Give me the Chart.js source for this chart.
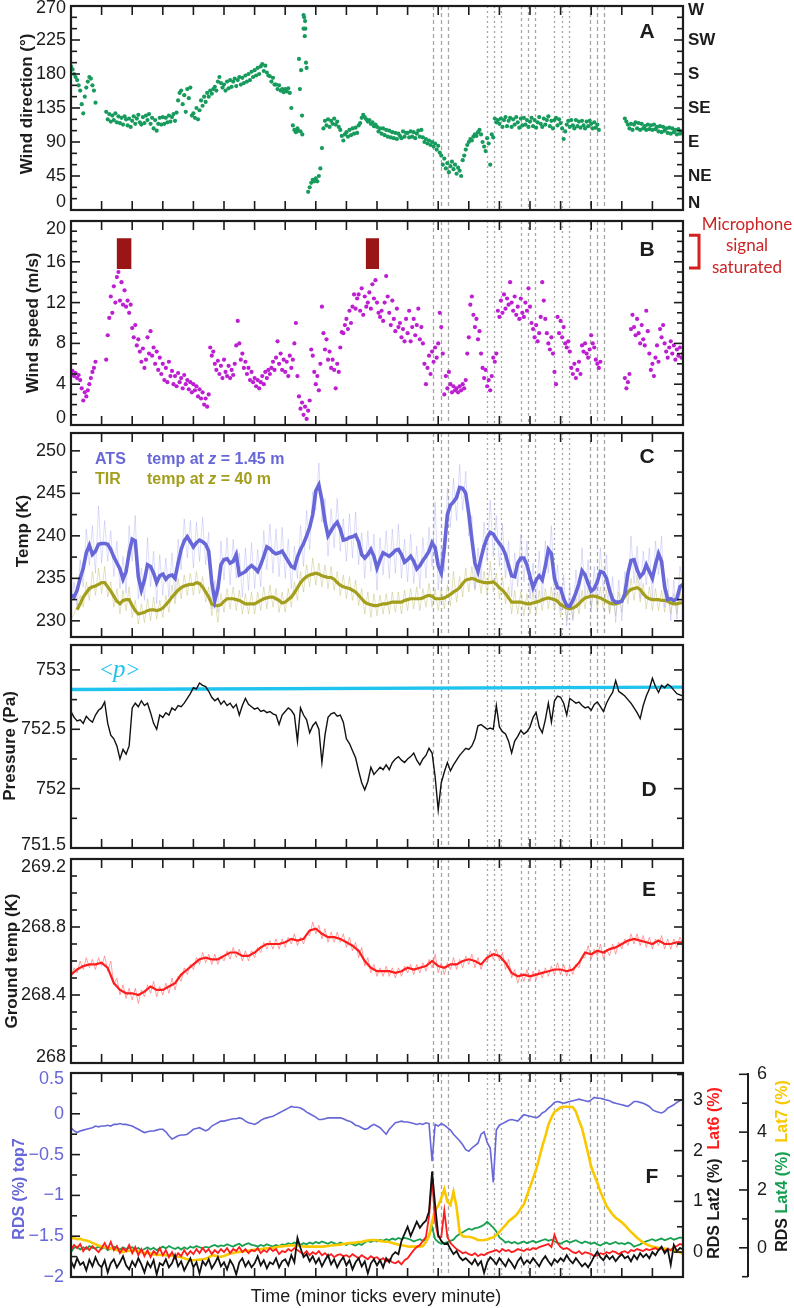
<!DOCTYPE html>
<html>
<head>
<meta charset="utf-8">
<title>Wind, temperature, pressure and RDS records</title>
<script src="https://cdn.jsdelivr.net/npm/chart.js@4.4.1/dist/chart.umd.min.js"></script>
<style>
  html, body { margin: 0; padding: 0; background: #fff; }
  body { position: relative; width: 794px; height: 1308px; overflow: hidden; }
</style>
</head>
<body>
<script>
// time axis is in minutes, 0..20
const STEP_FINE = 0.05;   // wind direction / speed samples
const STEP = 0.1;         // temperature, pressure, RDS samples
const STEP_SMOOTH = 0.2;  // smoothed ground temperature

// A - wind direction (deg)
const windDir = [
  190, 186, 180, 176, 172, 165, 158, 140, 128, 150, 162, 170, 176, 174, 165, 158, 142, null, null, null,
  null, null, null, 130, 120, 127, 117, 125, 119, 128, 116, 124, 115, 122, 113, 124, 120, 112, 121, 110,
  118, 124, 114, 121, 126, 116, 113, 123, 115, 125, 119, 127, 114, 122, 108, 119, 105, 114, 122, 113,
  123, 114, 122, 116, 125, 117, 123, 127, 118, 129, 145, 155, 158, 140, 152, 130, 160, 148, 162, 125,
  128, 122, 135, 120, 132, 145, 138, 150, 143, 155, 150, 158, 154, 160, 163, 158, 170, 176, 168, 162,
  166, 158, 170, 161, 172, 163, 170, 174, 164, 172, 176, 166, 175, 168, 178, 170, 180, 172, 183, 176,
  185, 178, 188, 180, 190, 193, 184, 191, 182, 178, 177, 170, 175, 166, 166, 160, 165, 158, 160, 156,
  160, 157, 161, 155, 135, 112, 106, 103, 108, 200, 104, 125, 240, 250, 188, 24, 30, 36, 40, 38,
  42, 38, 45, 55, 82, 108, 118, 112, 120, 110, 118, 114, 121, 113, 117, 110, 106, 98, 92, 100,
  103, 97, 106, 99, 108, 101, 109, 102, 112, 115, 122, 126, 123, 120, 117, 119, 114, 116, 111, 113,
  110, 104, 108, 101, 108, 99, 106, 97, 105, 96, 103, 95, 102, 94, 101, 98, 95, 104, 97, 102,
  102, 96, 104, 97, 103, 95, 101, 105, 97, 106, 96, 90, 94, 88, 92, 86, 90, 84, 88, 80,
  85, 76, 72, 60, 68, 55, 62, 50, 58, 64, 54, 60, 48, 56, 52, 45, 66, 72, 80, 86,
  90, 94, 92, 97, 100, 98, 103, 106, 100, 90, 84, 78, 95, 88, 60, 100, 96, 121, 116, 119,
  114, 121, 110, 119, 123, 111, 118, 122, 110, 120, 113, 123, 116, 109, 121, 112, 122, 113, 119, 110,
  117, 122, 111, 119, 109, 116, 123, 114, 110, 121, 113, 119, 124, 111, 118, 108, 119, 122, 112, 120,
  115, 108, 94, 104, 113, 118, 110, 119, 112, 108, 119, 111, 117, 109, 118, 112, 108, 117, 111, 118,
  114, 108, 116, 109, 113, 106, null, null, null, null, null, null, null, null, null, null, null, null, null, null,
  null, null, 121, 117, 113, 108, 114, 106, 113, 116, 108, 115, 106, 114, 108, 111, 106, 113, 107, 112,
  106, 113, 107, 110, 104, 111, 103, 110, 105, 108, 102, 109, 101, 108, 103, 106, 100, 107, 101, 104,
  101
];
const windDirExtraT = [7.42, 7.48, 7.52, 7.56, 7.6, 7.62, 7.64, 7.66, 7.68];
const windDirExtraV = [105, 160, 185, 100, 258, 255, 230, 240, 195];
const dirTicks = [0, 45, 90, 135, 180, 225, 270];
const compassLabels = ['N', 'NE', 'E', 'SE', 'S', 'SW', 'W'];

// B - wind speed (m/s)
const windSpeed = [
  5.0, 5.3, 4.8, 5.1, 4.6, 4.9, 4.4, 3.6, 2.4, 3.2, 2.8, 3.4, 4.0, 4.6, 5.2, 5.6, 6.2, null, null, null,
  null, null, null, 6.4, 8.8, 10.5, 12.6, 11.0, 13.6, 12.0, 14.5, 15.0, 12.2, 14.0, 11.8, 13.2, 11.6, 12.2, 11.0, 11.8,
  9.5, 8.6, 9.8, 7.8, 8.4, 7.2, 6.2, 7.5, 5.6, 6.4, 8.6, 7.0, 9.2, 6.8, 7.6, 6.0, 7.2, 5.4, 6.6, 5.0,
  6.0, 4.4, 5.6, 4.2, 6.2, 4.8, 5.3, 4.0, 4.8, 3.8, 5.1, 4.2, 4.6, 3.6, 4.9, 4.0, 4.4, 3.5, 4.2, 3.2,
  4.0, 3.4, 3.8, 2.8, 3.5, 2.6, 3.2, 2.0, 2.6, 1.8, 3.0, 7.6, 6.8, 7.2, 6.0, 5.4, 6.3, 5.0, 5.8, 4.6,
  6.4, 5.2, 4.8, 5.8, 4.6, 5.4, 4.9, 6.0, 7.8, 10.2, 8.0, 6.4, 7.0, 5.6, 6.2, 5.0, 5.6, 4.4, 5.2, 4.2,
  4.6, 3.8, 4.4, 3.6, 4.2, 4.8, 4.0, 5.2, 4.6, 5.4, 5.0, 5.6, 6.2, 5.4, 6.6, 8.2, 6.0, 7.0, 5.4, 6.4,
  5.2, 6.2, 4.8, 6.8, 5.6, 6.4, 8.0, 10.0, 4.8, 2.8, 1.6, 2.2, 1.0, 1.8, 0.6, 1.4, 2.4, 7.4, 6.8, 5.2,
  4.0, 4.8, 3.4, 6.0, 11.6, 9.0, 7.4, 8.4, 6.4, 7.2, 5.6, 6.4, 5.4, 3.6, 6.0, 5.2, 7.6, 9.1, 9.0, 9.8,
  10.4, 9.4, 11.2, 10.0, 11.6, 12.8, 11.4, 12.4, 12.8, 11.2, 13.4, 10.8, 12.6, 11.6, 12.0, 13.0, 11.4, 13.8, 12.4, 14.2,
  12.0, 11.0, 10.6, 11.2, 10.2, 12.0, 14.6, 12.6, 11.0, 9.8, 12.2, 10.4, 9.2, 11.4, 9.6, 10.0, 8.6, 9.4, 8.2, 10.4,
  9.0, 11.2, 8.2, 9.6, 10.4, 8.8, 9.8, 11.4, 8.4, 9.6, 8.0, 6.0, 4.0, 5.6, 6.8, 5.0, 7.2, 6.2, 7.6, 6.6,
  8.0, 11.0, 9.6, 7.0, 3.0, 4.8, 3.6, 5.2, 4.0, 3.2, 3.8, 3.4, 3.6, 3.2, 3.8, 3.4, 4.0, 3.6, 4.4, 7.0,
  8.6, 11.8, 12.6, 10.8, 9.6, 10.4, 8.4, 9.2, 7.0, 5.6, 4.6, 5.4, 3.8, 4.4, 3.4, 4.8, 6.6, 6.2, 7.0, 11.2,
  10.6, 12.2, 11.0, 12.8, 11.4, 12.4, 11.8, 14.0, 12.0, 11.2, 12.6, 10.8, 11.6, 10.4, 12.4, 11.0, 10.6, 12.0, 11.2, 13.4,
  11.6, 10.0, 9.4, 8.6, 9.8, 8.2, 9.0, 10.6, 14.0, 12.2, 10.4, 9.0, 8.0, 7.4, 8.6, 7.0, 5.2, 4.0, 10.6, 9.0,
  10.2, 8.6, 9.6, 8.0, 7.6, 8.2, 7.2, 5.6, 5.0, 6.0, 4.6, 5.4, 6.2, 5.0, 7.8, 7.2, 8.0, 7.0, 6.6, 7.4,
  8.8, 8.0, 7.6, 6.4, 6.0, 5.6, 6.2, null, null, null, null, null, null, null, null, null, null, null, null, null,
  null, null, 4.6, 3.6, 4.2, 5.0, 9.4, 10.8, 9.6, 8.8, 10.4, 9.0, 8.0, 9.8, 8.4, 7.8, 11.2, 9.2, 7.0, 5.4,
  6.0, 4.8, 6.6, 7.8, 6.2, 9.4, 8.6, 9.8, 8.0, 7.2, 6.6, 7.6, 8.2, 7.0, 7.8, 6.4, 7.4, 6.8, 7.6, 6.6,
  7.0
];
const satStart = [1.49, 9.63];
const satEnd = [1.98, 10.07];
const satLow = 15.3, satHigh = 18.3;
const speedTicks = [0, 4, 8, 12, 16, 20];

// C - air temperatures (K)
const atsRaw = [
  231.5, 234.6, 231.8, 237.2, 234.0, 240.8, 236.5, 241.2, 235.6, 243.5,
  236.8, 241.8, 237.0, 240.6, 235.2, 239.4, 233.8, 237.6, 233.2, 241.2,
  237.0, 242.4, 232.6, 236.2, 232.4, 239.8, 234.0, 238.2, 232.0, 237.8,
  233.0, 237.4, 232.8, 238.0, 232.6, 239.6, 236.0, 242.0, 237.4, 241.8,
  236.2, 241.6, 237.0, 242.2, 236.6, 240.4, 231.4, 234.8, 231.0, 239.4,
  234.8, 239.8, 234.2, 239.6, 235.0, 238.0, 232.8, 238.6, 233.6, 239.2,
  233.8, 238.4, 234.0, 240.6, 236.0, 241.4, 235.6, 240.8, 235.2, 241.0,
  235.0, 239.6, 233.8, 238.8, 235.0, 241.2, 236.4, 243.0, 238.4, 245.2,
  243.0, 248.6, 241.6, 244.4, 237.6, 243.2, 238.6, 244.4, 238.2, 242.0,
  237.0, 242.6, 237.4, 242.8, 236.6, 240.4, 235.0, 240.6, 235.8, 240.2,
  233.6, 239.8, 235.4, 240.6, 235.0, 240.8, 235.6, 241.4, 235.0, 239.6,
  234.6, 240.2, 234.4, 238.8, 233.8, 239.8, 235.0, 241.0, 236.4, 244.0,
  233.6, 238.4, 235.8, 245.6, 241.0, 246.8, 241.8, 248.4, 243.0, 247.6,
  240.0, 242.4, 233.8, 238.6, 234.8, 241.6, 237.0, 244.2, 237.6, 242.4,
  236.4, 241.4, 235.0, 239.4, 232.8, 238.0, 234.0, 240.2, 234.6, 239.4,
  232.6, 236.8, 232.0, 238.2, 232.2, 239.4, 235.6, 241.2, 232.4, 236.6,
  231.2, 235.4, 229.4, 234.2, 230.0, 236.0, 231.8, 238.6, 232.8, 237.2,
  231.0, 236.4, 232.0, 238.6, 233.2, 237.8, 231.0, 235.2, 229.8, 234.8,
  230.0, 235.8, 233.0, 240.0, 234.4, 238.8, 232.6, 238.2, 234.2, 238.6,
  232.4, 239.4, 235.4, 240.0, 231.6, 235.0, 230.0, 234.8, 230.2, 236.4,
  234.8
];
const atsSmooth = [
  233.0, 232.8, 233.6, 235.0, 236.2, 238.0, 238.9, 237.8, 238.2, 239.0,
  239.1, 239.1, 239.0, 238.4, 237.5, 236.8, 236.1, 234.9, 235.8, 238.0,
  239.6, 239.4, 235.2, 233.6, 234.8, 236.6, 236.4, 235.6, 234.5, 235.3,
  235.5, 234.9, 235.3, 235.4, 235.0, 236.8, 238.4, 239.4, 239.9, 239.3,
  238.7, 239.2, 239.5, 239.3, 239.0, 238.2, 234.5, 232.4, 233.8, 236.6,
  237.2, 237.3, 236.8, 237.0, 237.8, 235.4, 235.6, 235.8, 236.2, 236.5,
  236.2, 235.8, 236.6, 237.6, 238.7, 238.5, 238.1, 237.9, 238.0, 238.2,
  237.6, 237.0, 236.4, 236.2, 237.5, 238.4, 239.1, 240.0, 241.0, 242.5,
  245.3, 246.0, 244.2, 241.7, 240.0, 240.6, 241.2, 241.6, 240.8, 239.5,
  239.6, 239.8, 239.9, 240.1, 239.3, 237.8, 237.4, 237.8, 238.4, 237.6,
  236.2, 237.2, 238.0, 237.8, 237.6, 237.9, 238.3, 238.4, 237.8, 236.9,
  237.2, 237.6, 237.0, 236.1, 236.5, 237.1, 237.6, 238.2, 239.2, 238.6,
  236.5, 235.6, 238.5, 242.5, 243.6, 244.0, 244.5, 245.7, 245.6, 245.0,
  242.6, 239.6, 236.8, 235.8, 237.4, 238.8, 239.8, 240.4, 240.2, 239.6,
  239.1, 238.6, 237.8, 236.5, 235.3, 235.2, 236.8, 237.4, 237.4, 236.6,
  235.2, 233.9, 234.8, 235.3, 234.8, 236.4, 238.4, 237.9, 235.0, 233.9,
  233.8, 232.6, 231.8, 231.7, 232.4, 233.3, 234.4, 235.9, 235.4, 234.4,
  233.5, 233.8, 234.6, 235.8, 235.7, 235.0, 233.6, 232.5, 232.2, 232.2,
  232.3, 233.2, 235.6, 237.1, 237.2, 236.0, 235.2, 235.6, 236.6, 235.8,
  235.0, 236.6, 237.9, 237.0, 234.0, 232.5, 232.6, 232.4, 232.6, 234.0,
  234.3
];
const tirRaw = [
  230.2, 230.8, 231.8, 233.0, 231.6, 234.6, 232.4, 235.8, 233.0, 236.2,
  233.2, 236.4, 232.8, 234.6, 231.6, 233.8, 230.8, 233.6, 231.2, 234.0,
  230.4, 232.4, 229.6, 232.0, 229.8, 232.6, 230.0, 232.8, 230.2, 232.4,
  230.4, 233.0, 231.0, 234.2, 232.0, 235.0, 232.6, 235.4, 233.0, 235.6,
  233.0, 235.8, 233.2, 235.2, 232.2, 234.0, 230.6, 232.6, 229.8, 233.2,
  231.0, 233.8, 231.4, 234.0, 231.2, 233.6, 230.8, 233.2, 230.8, 233.4,
  230.8, 233.4, 231.2, 234.0, 231.4, 234.2, 231.6, 233.8, 231.0, 233.4,
  231.0, 233.8, 231.6, 234.6, 232.4, 235.8, 233.4, 236.6, 234.0, 237.4,
  234.2, 236.8, 234.0, 236.6, 233.8, 236.4, 233.6, 235.8, 233.0, 235.4,
  232.6, 235.2, 232.4, 234.8, 231.8, 233.8, 230.8, 233.4, 230.4, 233.2,
  230.6, 233.0, 230.8, 233.2, 230.8, 233.4, 231.0, 233.4, 230.8, 233.6,
  231.2, 233.8, 231.4, 234.0, 231.2, 233.8, 231.6, 234.4, 231.6, 233.8,
  231.2, 233.8, 231.4, 234.2, 231.8, 235.8, 232.2, 235.2, 232.8, 236.2,
  233.4, 236.4, 233.6, 236.2, 233.2, 235.8, 233.0, 237.0, 233.4, 235.6,
  232.6, 235.2, 232.0, 234.0, 230.8, 233.6, 230.8, 233.4, 230.6, 233.2,
  230.8, 233.4, 230.8, 233.6, 231.2, 233.8, 231.4, 234.0, 231.2, 233.4,
  230.4, 233.0, 230.0, 232.6, 230.2, 232.8, 230.8, 233.6, 231.4, 234.0,
  231.6, 234.2, 231.4, 234.0, 231.2, 233.6, 230.8, 233.2, 230.6, 233.4,
  231.0, 234.2, 232.0, 235.0, 232.4, 235.4, 232.2, 234.4, 231.4, 234.0,
  231.2, 233.8, 231.2, 233.6, 231.0, 233.6, 230.8, 233.2, 230.8, 233.4,
  232.0
];
const tirSmooth = [
  null, null, 231.3, 232.0, 232.8, 233.3, 233.8, 234.0, 234.1, 234.3,
  234.5, 234.5, 234.0, 233.5, 232.9, 232.3, 232.0, 232.4, 232.5, 232.5,
  231.8, 231.2, 230.8, 230.9, 231.0, 231.2, 231.3, 231.3, 231.2, 231.3,
  231.5, 231.9, 232.3, 232.8, 233.2, 233.6, 233.9, 234.1, 234.2, 234.3,
  234.3, 234.5, 234.4, 234.0, 233.4, 232.8, 232.0, 231.8, 231.8, 231.9,
  232.3, 232.6, 232.6, 232.6, 232.5, 232.4, 232.2, 232.0, 232.0, 232.0,
  232.0, 232.2, 232.4, 232.6, 232.7, 232.8, 232.8, 232.6, 232.4, 232.1,
  232.2, 232.5, 232.8, 233.3, 233.9, 234.5, 234.9, 235.2, 235.4, 235.5,
  235.6, 235.5, 235.3, 235.2, 235.1, 235.1, 234.9, 234.5, 234.2, 234.0,
  233.9, 233.8, 233.6, 233.4, 233.0, 232.6, 232.2, 232.0, 231.9, 231.8,
  231.8, 231.9, 232.0, 232.0, 232.1, 232.2, 232.2, 232.2, 232.2, 232.4,
  232.5, 232.6, 232.6, 232.6, 232.6, 232.7, 232.9, 233.0, 232.9, 232.6,
  232.6, 232.6, 232.7, 232.9, 233.1, 233.4, 233.6, 233.9, 234.4, 234.8,
  234.9, 235.0, 234.9, 234.7, 234.6, 234.5, 234.5, 234.5, 234.6, 234.3,
  233.9, 233.6, 233.2, 232.7, 232.2, 232.2, 232.2, 232.2, 232.1, 232.0,
  232.0, 232.1, 232.2, 232.3, 232.5, 232.6, 232.7, 232.6, 232.5, 232.3,
  231.9, 231.7, 231.5, 231.4, 231.5, 231.7, 232.0, 232.4, 232.7, 232.8,
  232.9, 232.9, 232.8, 232.7, 232.5, 232.3, 232.1, 232.0, 232.0, 232.1,
  232.4, 232.9, 233.4, 233.7, 233.8, 233.9, 233.7, 233.2, 232.8, 232.6,
  232.5, 232.5, 232.5, 232.4, 232.4, 232.3, 232.1, 232.0, 232.0, 232.1,
  232.1
];
const tempTicks = [230, 235, 240, 245, 250];

// D - pressure (Pa)
const pressure = [
  752.65, 752.60, 752.57, 752.58, 752.55, 752.61, 752.58, 752.56, 752.62, 752.66,
  752.68, 752.73, 752.55, 752.45, 752.42, 752.36, 752.25, 752.33, 752.29, 752.36,
  752.68, 752.72, 752.69, 752.74, 752.70, 752.72, 752.64, 752.55, 752.50, 752.62,
  752.60, 752.64, 752.62, 752.68, 752.66, 752.70, 752.69, 752.72, 752.76, 752.80,
  752.85, 752.84, 752.89, 752.87, 752.86, 752.82, 752.77, 752.74, 752.76, 752.71,
  752.74, 752.70, 752.72, 752.68, 752.71, 752.62, 752.70, 752.76, 752.71, 752.69,
  752.67, 752.68, 752.65, 752.66, 752.64, 752.65, 752.63, 752.62, 752.54, 752.62,
  752.65, 752.68, 752.66, 752.62, 752.40, 752.68, 752.62, 752.58, 752.47, 752.53,
  752.56, 752.50, 752.22, 752.45, 752.60, 752.63, 752.64, 752.61, 752.62, 752.56,
  752.42, 752.38, 752.32, 752.26, 752.15, 752.05, 751.99, 752.06, 752.18, 752.12,
  752.15, 752.18, 752.16, 752.20, 752.16, 752.22, 752.25, 752.27, 752.24, 752.22,
  752.25, 752.27, 752.30, 752.24, 752.20, 752.25, 752.28, 752.34, 752.30, 752.10,
  751.82, 752.05, 752.14, 752.22, 752.15, 752.20, 752.24, 752.28, 752.31, 752.34,
  752.33, 752.36, 752.42, 752.53, 752.54, 752.52, 752.50, 752.51, 752.50, 752.70,
  752.52, 752.48, 752.46, 752.40, 752.30, 752.40, 752.44, 752.49, 752.46, 752.48,
  752.52, 752.60, 752.64, 752.52, 752.47, 752.58, 752.72, 752.56, 752.74, 752.78,
  752.77, 752.72, 752.62, 752.76, 752.74, 752.72, 752.73, 752.70, 752.68, 752.69,
  752.66, 752.71, 752.73, 752.69, 752.65, 752.72, 752.77, 752.81, 752.91, 752.82,
  752.80, 752.78, 752.75, 752.72, 752.68, 752.64, 752.59, 752.70, 752.78, 752.84,
  752.93, 752.86, 752.81, 752.87, 752.85, 752.88, 752.86, 752.83, 752.80, 752.79,
  752.78
];
const pressureMeanT = [0, 20];
const pressureMean = [752.835, 752.855];
const presTicks = [751.5, 752, 752.5, 753];

// E - ground temperature (K)
const groundRaw = [
  268.50, 268.56, 268.53, 268.60, 268.55, 268.62, 268.56, 268.61, 268.55, 268.62,
  268.57, 268.63, 268.54, 268.60, 268.46, 268.50, 268.40, 268.46, 268.38, 268.44,
  268.37, 268.44, 268.35, 268.43, 268.39, 268.46, 268.41, 268.48, 268.39, 268.45,
  268.40, 268.47, 268.41, 268.50, 268.43, 268.51, 268.48, 268.56, 268.52, 268.58,
  268.55, 268.62, 268.58, 268.65, 268.59, 268.64, 268.58, 268.64, 268.58, 268.63,
  268.60, 268.66, 268.61, 268.68, 268.62, 268.67, 268.60, 268.66, 268.60, 268.66,
  268.62, 268.68, 268.65, 268.71, 268.67, 268.72, 268.67, 268.73, 268.67, 268.73,
  268.68, 268.74, 268.70, 268.76, 268.69, 268.74, 268.70, 268.76, 268.75, 268.83,
  268.76, 268.81, 268.73, 268.79, 268.71, 268.77, 268.71, 268.77, 268.71, 268.76,
  268.68, 268.74, 268.66, 268.71, 268.62, 268.68, 268.57, 268.62, 268.53, 268.58,
  268.51, 268.56, 268.51, 268.57, 268.51, 268.56, 268.50, 268.56, 268.51, 268.57,
  268.53, 268.58, 268.52, 268.58, 268.53, 268.59, 268.54, 268.61, 268.56, 268.64,
  268.53, 268.59, 268.52, 268.59, 268.55, 268.62, 268.55, 268.61, 268.56, 268.63,
  268.58, 268.64, 268.56, 268.62, 268.55, 268.61, 268.59, 268.66, 268.61, 268.67,
  268.60, 268.65, 268.55, 268.61, 268.50, 268.55, 268.47, 268.53, 268.48, 268.55,
  268.48, 268.54, 268.49, 268.55, 268.50, 268.56, 268.51, 268.57, 268.52, 268.59,
  268.52, 268.58, 268.51, 268.57, 268.52, 268.58, 268.56, 268.62, 268.62, 268.69,
  268.61, 268.67, 268.63, 268.70, 268.61, 268.67, 268.63, 268.70, 268.64, 268.71,
  268.67, 268.73, 268.69, 268.76, 268.70, 268.76, 268.69, 268.75, 268.68, 268.74,
  268.67, 268.73, 268.69, 268.75, 268.67, 268.73, 268.67, 268.73, 268.68, 268.74,
  268.70
];
const groundSmooth = [
  268.52, 268.55, 268.57, 268.58, 268.58, 268.59, 268.56, 268.47, 268.43, 268.41,
  268.41, 268.40, 268.42, 268.45, 268.43, 268.43, 268.45, 268.47, 268.52, 268.55,
  268.58, 268.61, 268.62, 268.61, 268.61, 268.63, 268.65, 268.65, 268.63, 268.63,
  268.65, 268.68, 268.70, 268.70, 268.70, 268.71, 268.73, 268.72, 268.73, 268.78,
  268.79, 268.76, 268.74, 268.74, 268.73, 268.71, 268.69, 268.66, 268.60, 268.56,
  268.54, 268.54, 268.54, 268.53, 268.54, 268.56, 268.55, 268.56, 268.57, 268.60,
  268.57, 268.56, 268.58, 268.58, 268.60, 268.61, 268.60, 268.58, 268.62, 268.64,
  268.63, 268.59, 268.53, 268.51, 268.52, 268.51, 268.52, 268.53, 268.54, 268.55,
  268.55, 268.54, 268.55, 268.59, 268.65, 268.64, 268.66, 268.65, 268.67, 268.68,
  268.70, 268.72, 268.73, 268.72, 268.71, 268.70, 268.72, 268.70, 268.70, 268.71,
  268.71
];
const groundTicks = [268, 268.4, 268.8, 269.2];

// F - relative drop size signals (%)
const rdsTop7 = [
  -0.17, -0.21, -0.23, -0.21, -0.20, -0.19, -0.18, -0.17, -0.15, -0.16,
  -0.15, -0.15, -0.14, -0.15, -0.13, -0.13, -0.12, -0.13, -0.13, -0.14,
  -0.15, -0.17, -0.19, -0.21, -0.23, -0.22, -0.21, -0.21, -0.20, -0.19,
  -0.19, -0.22, -0.27, -0.31, -0.29, -0.27, -0.26, -0.26, -0.25, -0.22,
  -0.19, -0.18, -0.17, -0.19, -0.21, -0.19, -0.15, -0.13, -0.11, -0.09,
  -0.09, -0.08, -0.07, -0.06, -0.06, -0.05, -0.06, -0.09, -0.11, -0.12,
  -0.13, -0.11, -0.08, -0.06, -0.05, -0.04, -0.03, -0.01, 0.01, 0.03,
  0.05, 0.07, 0.09, 0.08, 0.08, 0.07, 0.05, 0.02, 0.00, -0.02,
  -0.04, -0.07, -0.07, -0.06, -0.05, -0.05, -0.05, -0.05, -0.05, -0.06,
  -0.08, -0.09, -0.11, -0.14, -0.15, -0.17, -0.19, -0.18, -0.15, -0.13,
  -0.15, -0.17, -0.21, -0.25, -0.19, -0.15, -0.11, -0.10, -0.09, -0.10,
  -0.10, -0.11, -0.12, -0.13, -0.12, -0.13, -0.11, -0.12, -0.58, -0.13,
  -0.15, -0.12, -0.14, -0.17, -0.20, -0.25, -0.29, -0.33, -0.38, -0.44,
  -0.46, -0.42, -0.39, -0.36, -0.25, -0.22, -0.35, -0.42, -0.84, -0.20,
  -0.14, -0.12, -0.10, -0.08, -0.07, -0.08, -0.09, -0.05, -0.01, -0.02,
  -0.03, -0.04, -0.05, -0.03, 0.01, 0.03, 0.07, 0.10, 0.14, 0.15,
  0.14, 0.13, 0.14, 0.15, 0.16, 0.17, 0.18, 0.17, 0.16, 0.15,
  0.17, 0.20, 0.19, 0.19, 0.18, 0.17, 0.16, 0.14, 0.13, 0.12,
  0.11, 0.10, 0.09, 0.12, 0.15, 0.15, 0.14, 0.13, 0.11, 0.09,
  0.05, 0.03, 0.02, 0.01, 0.03, 0.07, 0.09, 0.11, 0.14, 0.16,
  0.18
];
const rdsLat2 = [
  -0.18, -0.30, -0.12, -0.25, -0.20, -0.36, -0.15, -0.28, -0.10, -0.24,
  -0.30, -0.16, -0.40, -0.22, -0.14, -0.30, -0.20, -0.08, -0.26, -0.34,
  -0.18, -0.28, -0.12, -0.24, -0.40, -0.20, -0.30, -0.16, -0.44, -0.22,
  -0.26, -0.14, -0.30, -0.22, -0.06, -0.28, -0.18, -0.36, -0.24, -0.12,
  -0.30, -0.20, -0.42, -0.18, -0.26, -0.14, -0.32, -0.22, -0.10, -0.28,
  -0.20, -0.34, -0.16, -0.26, -0.44, -0.20, -0.12, -0.28, -0.18, -0.30,
  -0.22, -0.08, -0.26, -0.16, -0.32, -0.20, -0.24, -0.12, -0.30, -0.18,
  -0.14, -0.26, -0.06, -0.20, 0.28, 0.08, -0.10, -0.04, -0.18, -0.08,
  -0.22, -0.12, -0.28, -0.16, -0.06, -0.24, -0.14, -0.30, -0.18, -0.10,
  -0.26, -0.16, -0.34, -0.20, -0.12, -0.28, -0.18, -0.42, -0.22, -0.14,
  -0.26, -0.16, -0.30, -0.12, -0.20, -0.06, 0.00, -0.04, 0.22, 0.36,
  0.50, 0.32, 0.46, 0.60, 0.48, 0.56, 0.62, 0.80, 1.59, 0.92,
  0.34, 0.22, 0.16, 0.18, 0.06, -0.04, 0.02, -0.10, -0.16, -0.12,
  -0.18, -0.24, -0.14, -0.26, -0.18, -0.41, -0.20, -0.10, -0.16, -0.24,
  -0.12, -0.20, -0.28, -0.14, -0.22, -0.32, -0.18, -0.10, -0.24, -0.16,
  -0.22, -0.12, -0.20, -0.28, -0.16, -0.08, -0.18, -0.26, -0.14, -0.20,
  -0.12, -0.18, -0.06, -0.16, -0.22, -0.12, -0.20, -0.28, -0.22, -0.30,
  -0.20, -0.08, 0.01, -0.10, -0.16, -0.06, -0.14, -0.08, -0.18, -0.10,
  -0.04, -0.12, -0.08, -0.18, -0.06, -0.14, -0.02, -0.10, -0.04, -0.12,
  0.00, -0.06, 0.04, 0.11, -0.02, 0.06, -0.25, 0.14, 0.02, 0.08,
  0.06
];
const rdsLat6 = [
  0.05, 0.14, 0.08, 0.16, 0.02, 0.10, 0.04, 0.12, 0.06, 0.00,
  0.08, 0.18, 0.06, 0.20, 0.04, 0.12, -0.02, 0.08, 0.02, 0.14,
  -0.02, 0.10, -0.06, 0.06, -0.08, 0.04, -0.10, 0.02, -0.04, 0.08,
  -0.06, 0.04, -0.10, 0.00, -0.12, -0.02, -0.08, 0.04, -0.06, 0.02,
  -0.04, 0.06, -0.02, 0.08, 0.00, 0.06, -0.04, 0.04, -0.02, 0.06,
  0.00, 0.08, -0.02, 0.06, 0.02, 0.10, 0.00, 0.06, -0.02, 0.04,
  0.02, 0.08, -0.02, 0.04, 0.00, 0.08, 0.02, 0.06, -0.04, 0.02,
  0.00, 0.06, 0.02, 0.08, 0.04, 0.00, -0.04, 0.02, -0.06, 0.00,
  -0.04, 0.02, -0.06, -0.02, -0.08, -0.04, -0.10, -0.06, -0.04, -0.08,
  -0.06, -0.10, -0.04, -0.08, -0.12, -0.06, -0.10, -0.14, -0.08, -0.12,
  -0.10, -0.16, -0.12, -0.18, -0.14, -0.20, -0.22, -0.18, -0.24, -0.16,
  -0.12, -0.04, 0.04, 0.10, 0.14, 0.22, 0.30, 0.70, 1.46, 0.60,
  0.30, 0.30, 0.82, 0.30, 0.18, 0.12, 0.06, 0.02, -0.02, 0.00,
  -0.04, -0.06, -0.02, -0.08, -0.04, -0.06, -0.02, 0.00, 0.02, 0.04,
  0.00, 0.06, 0.02, 0.04, 0.00, 0.02, 0.06, 0.04, 0.02, 0.06,
  0.04, 0.08, 0.06, 0.10, 0.12, 0.14, 0.16, 0.10, 0.34, 0.18,
  0.10, 0.06, 0.08, 0.04, 0.00, -0.02, 0.02, -0.04, 0.00, -0.02,
  -0.04, -0.08, -0.06, -0.02, -0.04, 0.00, -0.02, 0.02, 0.00, -0.04,
  0.00, 0.02, -0.02, 0.04, 0.02, 0.06, 0.04, 0.02, 0.06, 0.04,
  0.06, 0.08, 0.04, 0.08, 0.02, 0.06, 0.04, 0.10, 0.12, 0.16,
  0.14
];
const rdsLat4 = [
  -0.14, 0.00, 0.04, -0.06, 0.02, -0.04, 0.06, 0.00, -0.02, 0.04,
  -0.04, 0.02, -0.08, -0.02, 0.04, 0.00, -0.06, 0.02, -0.04, 0.00,
  0.02, -0.06, 0.00, -0.10, -0.04, 0.02, -0.06, 0.00, -0.08, -0.02,
  0.04, -0.02, 0.06, 0.00, -0.04, 0.02, -0.06, 0.02, -0.04, 0.04,
  0.00, 0.06, 0.02, -0.02, 0.04, 0.00, 0.06, 0.10, 0.04, 0.08,
  0.06, 0.12, 0.08, 0.04, 0.10, 0.14, 0.06, 0.12, 0.16, 0.10,
  0.08, 0.04, 0.10, 0.06, 0.12, 0.08, 0.04, 0.10, 0.06, 0.12,
  0.10, 0.16, 0.12, 0.18, 0.14, 0.10, 0.16, 0.12, 0.18, 0.14,
  0.20, 0.16, 0.22, 0.18, 0.14, 0.20, 0.16, 0.12, 0.18, 0.14,
  0.10, 0.16, 0.12, 0.08, 0.14, 0.10, 0.18, 0.24, 0.20, 0.26,
  0.22, 0.28, 0.24, 0.30, 0.26, 0.32, 0.28, 0.34, 0.30, 0.34,
  0.32, 0.28, 0.22, 0.26, 0.30, 0.24, 0.28, 0.40, 0.73, 0.30,
  0.20, 0.14, 0.16, 0.20, 0.24, 0.28, 0.40, 0.48, 0.54, 0.60,
  0.66, 0.62, 0.68, 0.70, 0.74, 0.80, 0.90, 0.80, 0.70, 0.56,
  0.36, 0.28, 0.18, 0.22, 0.16, 0.20, 0.14, 0.18, 0.22, 0.16,
  0.20, 0.24, 0.18, 0.22, 0.26, 0.30, 0.24, 0.28, 0.22, 0.18,
  0.14, 0.20, 0.24, 0.18, 0.22, 0.26, 0.20, 0.16, 0.22, 0.18,
  0.14, 0.18, 0.12, 0.08, 0.14, 0.18, 0.12, 0.16, 0.20, 0.14,
  0.16, 0.12, 0.18, 0.14, 0.04, 0.08, 0.12, 0.18, 0.22, 0.26,
  0.30, 0.24, 0.28, 0.32, 0.26, 0.30, 0.34, 0.28, 0.32, 0.36,
  0.33
];
const rdsLat7 = [
  0.33, 0.34, 0.30, 0.31, 0.27, 0.25, 0.22, 0.17, 0.12, 0.08,
  0.04, 0.02, 0.00, -0.02, -0.04, -0.08, -0.12, -0.14, -0.12, -0.10,
  -0.08, -0.10, -0.12, -0.15, -0.17, -0.19, -0.20, -0.22, -0.25, -0.24,
  -0.25, -0.26, -0.25, -0.27, -0.29, -0.31, -0.33, -0.36, -0.40, -0.42,
  -0.43, -0.42, -0.41, -0.40, -0.38, -0.33, -0.26, -0.27, -0.30, -0.31,
  -0.28, -0.24, -0.20, -0.18, -0.16, -0.14, -0.13, -0.11, -0.10, -0.08,
  -0.07, -0.06, -0.05, -0.03, -0.02, -0.01, 0.00, 0.02, 0.04, 0.05,
  0.06, 0.07, 0.09, 0.08, 0.07, 0.06, 0.05, 0.04, 0.04, 0.04,
  0.04, 0.04, 0.04, 0.05, 0.06, 0.08, 0.09, 0.10, 0.11, 0.13,
  0.15, 0.16, 0.17, 0.18, 0.20, 0.21, 0.23, 0.25, 0.27, 0.27,
  0.26, 0.24, 0.22, 0.21, 0.20, 0.17, 0.14, 0.11, 0.09, 0.07,
  0.05, 0.04, 0.04, 0.04, 0.04, 0.06, 0.21, 0.40, 0.90, 1.30,
  1.45, 1.71, 2.03, 1.60, 1.48, 1.94, 1.40, 0.55, 0.40, 0.38,
  0.38, 0.36, 0.32, 0.27, 0.26, 0.27, 0.29, 0.33, 0.36, 0.44,
  0.55, 0.67, 0.78, 0.92, 1.00, 1.08, 1.20, 1.36, 1.50, 1.80,
  2.10, 2.40, 2.70, 3.10, 3.50, 3.85, 4.25, 4.50, 4.70, 4.77,
  4.85, 4.88, 4.88, 4.88, 4.86, 4.71, 4.40, 4.13, 3.70, 3.25,
  2.80, 2.52, 2.25, 1.95, 1.70, 1.45, 1.30, 1.15, 1.04, 0.96,
  0.88, 0.78, 0.66, 0.55, 0.45, 0.35, 0.26, 0.18, 0.12, 0.08,
  0.04, 0.02, 0.00, -0.02, -0.03, -0.05, -0.08, -0.10, -0.12, -0.15,
  -0.22
];
const rdsTicks = [-2, -1.5, -1, -0.5, 0, 0.5];
const lat26Ticks = [0, 1, 2, 3];
const lat47Ticks = [0, 2, 4, 6];

// times of the marked events (dashed verticals), three per group
const eventTimes = [11.82, 12.08, 12.33, 13.58, 13.82, 14.05, 14.71, 14.93, 15.16, 15.79, 16.04, 16.27, 16.96, 17.2, 17.43];

// ---- drawing ----
const PAGE_W = 794, PLOT_L = 71, PLOT_R = 683, PAD = 22;
const SANS = "'Liberation Sans', Arial, Helvetica, sans-serif";
const INK = '#1c1c1c';
const GREEN = '#179B5C', MAGENTA = '#BE1ED2', ATS_BLUE = '#6767D8', TIR_OLIVE = '#A39E1C';
const CYAN = '#1EC3EE', RED = '#FF1C1C', LAT4_GREEN = '#16A050', GOLD = '#F9C800', SAT_RED = '#9A1515';

function pts(values, step) {
  return values.map((v, i) => ({ x: Math.round(i * step * 1000) / 1000, y: v }));
}
function pairs(xs, ys) {
  return xs.map((x, i) => ({ x: x, y: ys[i] }));
}
function fmt(v) {
  return v < 0 ? '\u2212' + Math.abs(v) : String(v);
}
function line(ctx, x1, y1, x2, y2) {
  ctx.beginPath(); ctx.moveTo(x1, y1); ctx.lineTo(x2, y2); ctx.stroke();
}
function yTicks(ctx, scale, xEdge, dir, major, minor) {
  const k0 = Math.ceil(scale.min / minor - 1e-6), k1 = Math.floor(scale.max / minor + 1e-6);
  for (let k = k0; k <= k1; k++) {
    const v = k * minor;
    const isMajor = Math.abs(v / major - Math.round(v / major)) < 1e-6;
    const py = scale.getPixelForValue(v);
    line(ctx, xEdge, py, xEdge + dir * (isMajor ? 9 : 6), py);
  }
}
function yLabels(ctx, scale, values, x, align, a, clampTop, clampBottom, font, color, textFn) {
  ctx.font = font; ctx.fillStyle = color; ctx.textAlign = align; ctx.textBaseline = 'middle';
  values.forEach((v, i) => {
    let py = scale.getPixelForValue(v);
    py = Math.max(py, a.top + clampTop);
    py = Math.min(py, a.bottom - clampBottom);
    ctx.fillText(textFn ? textFn(v, i) : fmt(v), x, py);
  });
}
// several coloured pieces of text on one line, horizontal or turned -90deg, centred on (cx, cy)
function richText(ctx, parts, cx, cy, vertical) {
  ctx.save();
  ctx.translate(cx, cy);
  if (vertical) ctx.rotate(-Math.PI / 2);
  ctx.textBaseline = 'middle'; ctx.textAlign = 'left';
  let w = 0;
  parts.forEach(p => { ctx.font = p[2]; w += ctx.measureText(p[0]).width; });
  let x = -w / 2;
  parts.forEach(p => {
    ctx.font = p[2]; ctx.fillStyle = p[1];
    ctx.fillText(p[0], x, 0);
    x += ctx.measureText(p[0]).width;
  });
  ctx.restore();
}
function leftText(ctx, parts, x, y) {
  ctx.textBaseline = 'middle'; ctx.textAlign = 'left';
  parts.forEach(p => {
    ctx.font = p[2]; ctx.fillStyle = p[1];
    ctx.fillText(p[0], x, y);
    x += ctx.measureText(p[0]).width;
  });
}
function letter(ctx, ch, x, y) {
  ctx.font = 'bold 21px ' + SANS; ctx.fillStyle = INK;
  ctx.textAlign = 'center'; ctx.textBaseline = 'middle';
  ctx.fillText(ch, x, y);
}

function dots(data, color) {
  return { data: data, showLine: false, pointRadius: 2.1, pointBackgroundColor: color, pointBorderWidth: 0, borderColor: color };
}
function trace(data, color, width, extra) {
  return Object.assign({ data: data, borderColor: color, borderWidth: width, pointRadius: 0, fill: false }, extra || {});
}

function panel(cfg) {
  const canvasTop = cfg.top - PAD;
  const padBottom = cfg.padBottom || PAD;
  const h = cfg.bottom - cfg.top + PAD + padBottom;
  const box = document.createElement('div');
  box.style.cssText = 'position:absolute;left:0;top:' + canvasTop + 'px;width:' + PAGE_W + 'px;height:' + h + 'px';
  const canvas = document.createElement('canvas');
  canvas.width = PAGE_W; canvas.height = h;
  box.appendChild(canvas);
  document.body.appendChild(box);
  const Y = y => y - canvasTop;

  const decor = {
    id: 'decor' + cfg.id,
    beforeDatasetsDraw(chart) {
      const { ctx, chartArea: a, scales } = chart;
      ctx.save();
      ctx.strokeStyle = '#a6a6a6'; ctx.lineWidth = 1.3;
      eventTimes.forEach((t, i) => {
        const g = Math.floor(i / 3);
        ctx.setLineDash(g === 0 || g === 4 ? [4, 3] : (g === 2 ? [3, 3] : [2, 3]));
        const px = Math.round(scales.x.getPixelForValue(t)) + 0.5;
        line(ctx, px, a.top, px, a.bottom);
      });
      ctx.restore();
    },
    afterDraw(chart) {
      const { ctx, chartArea: a, scales } = chart;
      ctx.save();
      ctx.strokeStyle = INK; ctx.lineWidth = 1.6;
      for (let m = 1; m < 20; m++) {
        const px = scales.x.getPixelForValue(m);
        line(ctx, px, a.top, px, a.top + 9);
        line(ctx, px, a.bottom, px, a.bottom - 9);
      }
      cfg.ticks.forEach(t => {
        yTicks(ctx, scales[t.scale], t.side === 'left' ? a.left : a.right, t.side === 'left' ? 1 : -1, t.major, t.minor);
      });
      ctx.lineWidth = 2.2;
      ctx.strokeRect(a.left, a.top, a.right - a.left, a.bottom - a.top);
      cfg.draw(ctx, a, scales, Y);
      ctx.restore();
    }
  };

  new Chart(canvas, {
    type: 'line',
    data: { datasets: cfg.datasets },
    options: {
      responsive: false,
      animation: false,
      devicePixelRatio: 1,
      events: [],
      layout: { padding: { left: PLOT_L, right: PAGE_W - PLOT_R, top: PAD, bottom: padBottom } },
      plugins: { legend: { display: false }, tooltip: { enabled: false } },
      elements: { point: { radius: 0, hoverRadius: 0 }, line: { tension: 0 } },
      scales: Object.assign({ x: { type: 'linear', min: 0, max: 20, display: false } }, cfg.scales)
    },
    plugins: [decor]
  });
}

const tickFont = '18px ' + SANS;
const titleFont = 'bold 17px ' + SANS;

// A
panel({
  id: 'A', top: 6, bottom: 210,
  scales: { y: { min: 0, max: 270, display: false } },
  datasets: [
    dots(pts(windDir, STEP_FINE), GREEN),
    dots(pairs(windDirExtraT, windDirExtraV), GREEN)
  ],
  ticks: [{ scale: 'y', side: 'left', major: 45, minor: 15 }, { scale: 'y', side: 'right', major: 45, minor: 15 }],
  draw(ctx, a, s, Y) {
    yLabels(ctx, s.y, dirTicks, 66, 'right', a, 2, 8, tickFont, INK);
    yLabels(ctx, s.y, dirTicks, 688, 'left', a, 4, 7, 'bold 17px ' + SANS, INK, (v, i) => compassLabels[i]);
    richText(ctx, [['Wind direction (\u00B0)', INK, titleFont]], 27, Y(104), true);
    letter(ctx, 'A', 647, Y(32));
  }
});

// B
const satSets = satStart.map((x0, i) => ({
  data: [{ x: x0, y: satHigh }, { x: satEnd[i], y: satHigh }],
  borderWidth: 0, borderColor: SAT_RED, backgroundColor: SAT_RED, pointRadius: 0,
  fill: { value: satLow }
}));
panel({
  id: 'B', top: 221, bottom: 425,
  scales: { y: { min: 0, max: 20, display: false } },
  datasets: [dots(pts(windSpeed, STEP_FINE), MAGENTA)].concat(satSets),
  ticks: [{ scale: 'y', side: 'left', major: 4, minor: 1 }, { scale: 'y', side: 'right', major: 4, minor: 1 }],
  draw(ctx, a, s, Y) {
    yLabels(ctx, s.y, speedTicks, 66, 'right', a, 8, 7, tickFont, INK);
    richText(ctx, [['Wind speed (m/s)', INK, titleFont]], 33, Y(323), true);
    letter(ctx, 'B', 647, Y(250));
    // saturation bracket and note
    const y1 = s.y.getPixelForValue(18.6), y2 = s.y.getPixelForValue(15.4);
    ctx.strokeStyle = '#D42020'; ctx.lineWidth = 3; ctx.setLineDash([]);
    ctx.beginPath();
    ctx.moveTo(a.right + 6, y1); ctx.lineTo(a.right + 16, y1); ctx.lineTo(a.right + 16, y2); ctx.lineTo(a.right + 6, y2);
    ctx.stroke();
    ctx.font = "17px Lato, 'Open Sans', sans-serif"; ctx.fillStyle = '#CC2424';
    ctx.textAlign = 'center'; ctx.textBaseline = 'middle';
    ctx.fillText('Microphone', 747, Y(225));
    ctx.fillText('signal', 747, Y(246));
    ctx.fillText('saturated', 747, Y(268));
  }
});

// C
panel({
  id: 'C', top: 433, bottom: 637,
  scales: { y: { min: 228.1, max: 252.1, display: false } },
  datasets: [
    trace(pts(atsSmooth, STEP), ATS_BLUE, 3.6, { order: 0 }),
    trace(pts(tirSmooth, STEP), TIR_OLIVE, 3.2, { order: 1 }),
    trace(pts(atsRaw, STEP), 'rgba(150,150,238,0.32)', 1, { order: 2 }),
    trace(pts(tirRaw, STEP), 'rgba(185,180,95,0.4)', 1, { order: 3 })
  ],
  ticks: [{ scale: 'y', side: 'left', major: 5, minor: 2.5 }, { scale: 'y', side: 'right', major: 5, minor: 2.5 }],
  draw(ctx, a, s, Y) {
    yLabels(ctx, s.y, tempTicks, 66, 'right', a, 0, 0, tickFont, INK);
    richText(ctx, [['Temp (K)', INK, titleFont]], 23, Y(531), true);
    letter(ctx, 'C', 647, Y(457));
    const b = 'bold 16px ' + SANS, bi = 'italic bold 16px ' + SANS;
    leftText(ctx, [['ATS', ATS_BLUE, b]], 95, Y(460));
    leftText(ctx, [['temp at ', ATS_BLUE, b], ['z', ATS_BLUE, bi], [' = 1.45 m', ATS_BLUE, b]], 147, Y(460));
    leftText(ctx, [['TIR', TIR_OLIVE, b]], 95, Y(480));
    leftText(ctx, [['temp at ', TIR_OLIVE, b], ['z', TIR_OLIVE, bi], [' = 40 m', TIR_OLIVE, b]], 147, Y(480));
  }
});

// D
panel({
  id: 'D', top: 645, bottom: 848,
  scales: { y: { min: 751.5, max: 753.21, display: false } },
  datasets: [
    trace(pts(pressure, STEP), '#111', 1.4, { order: 0 }),
    trace(pairs(pressureMeanT, pressureMean), CYAN, 3.4, { order: 1 })
  ],
  ticks: [{ scale: 'y', side: 'left', major: 0.5, minor: 0.25 }, { scale: 'y', side: 'right', major: 0.5, minor: 0.25 }],
  draw(ctx, a, s, Y) {
    yLabels(ctx, s.y, presTicks, 66, 'right', a, 0, 3, tickFont, INK);
    richText(ctx, [['Pressure (Pa)', INK, titleFont]], 10, Y(746), true);
    letter(ctx, 'D', 649, Y(790));
    const serif = "'Liberation Serif', 'DejaVu Serif', serif";
    ctx.textBaseline = 'alphabetic'; ctx.textAlign = 'left'; ctx.fillStyle = CYAN;
    let x = 100;
    ctx.font = '23px ' + serif; ctx.fillText('<', x, Y(677)); x += ctx.measureText('<').width;
    ctx.font = 'italic 25px ' + serif; ctx.fillText('p', x, Y(677)); x += ctx.measureText('p').width + 1;
    ctx.font = '23px ' + serif; ctx.fillText('>', x, Y(677));
  }
});

// E
panel({
  id: 'E', top: 859, bottom: 1063,
  scales: { y: { min: 268, max: 269.2, display: false } },
  datasets: [
    trace(pts(groundSmooth, STEP_SMOOTH), RED, 2.2, { order: 0 }),
    trace(pts(groundRaw, STEP), 'rgba(255,110,110,0.65)', 1, { order: 1 })
  ],
  ticks: [{ scale: 'y', side: 'left', major: 0.4, minor: 0.1 }, { scale: 'y', side: 'right', major: 0.4, minor: 0.1 }],
  draw(ctx, a, s, Y) {
    yLabels(ctx, s.y, groundTicks, 66, 'right', a, 8, 6, tickFont, INK);
    richText(ctx, [['Ground temp (K)', INK, titleFont]], 12, Y(961), true);
    letter(ctx, 'E', 649, Y(890));
  }
});

// F
panel({
  id: 'F', top: 1073, bottom: 1277, padBottom: 31,
  scales: {
    y: { min: -2, max: 0.5, display: false },
    y1: { min: -0.49, max: 3.53, display: false },
    y2: { min: -1.01, max: 6.045, display: false }
  },
  datasets: [
    trace(pts(rdsTop7, STEP), ATS_BLUE, 1.6, { yAxisID: 'y', order: 0 }),
    trace(pts(rdsLat2, STEP), '#111', 1.8, { yAxisID: 'y1', order: 1 }),
    trace(pts(rdsLat6, STEP), RED, 1.8, { yAxisID: 'y1', order: 2 }),
    trace(pts(rdsLat7, STEP), GOLD, 2.6, { yAxisID: 'y2', order: 3 }),
    trace(pts(rdsLat4, STEP), LAT4_GREEN, 1.8, { yAxisID: 'y2', order: 4 })
  ],
  ticks: [{ scale: 'y', side: 'left', major: 0.5, minor: 0.25 }, { scale: 'y1', side: 'right', major: 1, minor: 0.5 }],
  draw(ctx, a, s, Y) {
    yLabels(ctx, s.y, rdsTicks, 64, 'right', a, 6, -20, tickFont, ATS_BLUE);
    yLabels(ctx, s.y1, lat26Ticks, 693, 'left', a, 0, 0, tickFont, INK);
    // outer axis for Lat4 / Lat7
    const ax = 748;
    ctx.strokeStyle = INK; ctx.lineWidth = 2;
    line(ctx, ax, a.top, ax, a.bottom);
    ctx.lineWidth = 1.6;
    yTicks(ctx, s.y2, ax, -1, 2, 1);
    yLabels(ctx, s.y2, lat47Ticks, 757, 'left', a, -20, -20, tickFont, INK);
    const b = 'bold 16px ' + SANS;
    richText(ctx, [['RDS (%) top7', ATS_BLUE, b]], 20, Y(1189), true);
    richText(ctx, [['RDS Lat2 (%)  ', INK, b], ['Lat6 (%)', RED, b]], 715, Y(1173), true);
    richText(ctx, [['RDS ', INK, b], ['Lat4 (%)  ', LAT4_GREEN, b], ['Lat7 (%)', GOLD, b]], 783, Y(1166), true);
    letter(ctx, 'F', 652, Y(1177));
    ctx.font = '18px ' + SANS; ctx.fillStyle = INK; ctx.textAlign = 'center'; ctx.textBaseline = 'middle';
    ctx.fillText('Time (minor ticks every minute)', 376, Y(1297));
  }
});
</script>
</body>
</html>
